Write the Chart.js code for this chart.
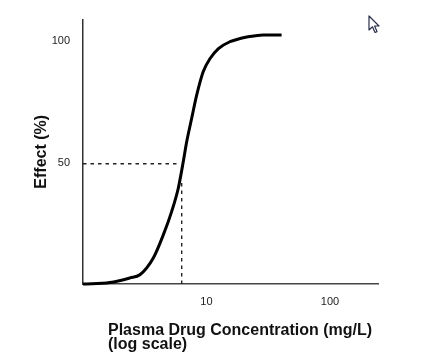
<!DOCTYPE html>
<html lang="en">
<head>
<meta charset="UTF-8">
<title>Effect vs Plasma Drug Concentration</title>
<script src="https://cdn.jsdelivr.net/npm/chart.js"></script>
<style>
    body {
        margin: 0;
        background: #fff;
    }
    .wrap {
        position: relative;
        width: 432px;
        height: 353px;
    }
    .x-title {
        position: absolute;
        left: 108px;
        top: 323px;
        font-family: "Liberation Sans", Arial, sans-serif;
        font-weight: bold;
        font-size: 16px;
        line-height: 14px;
        color: #111;
        white-space: nowrap;
    }
    .cursor {
        position: absolute;
        left: 368px;
        top: 15px;
    }
</style>
</head>
<body>
<div class="wrap">
    <canvas id="chart" width="432" height="353"></canvas>
    <div class="x-title">Plasma Drug Concentration (mg/L)<br>(log scale)</div>
    <svg class="cursor" width="14" height="20" viewBox="0 0 14 20">
        <path d="M1,1 L1,15 L4.5,11.8 L7,17.5 L9,16.6 L6.6,11 L11,11 Z" fill="#fff" stroke="#2a2f4a" stroke-width="1.2" stroke-linejoin="round"/>
    </svg>
</div>

<script>
// concentration (mg/L, log axis) and effect (%)
const concentration = [1.0, 1.65, 2.4, 2.89, 3.71, 4.47, 5.23, 5.91, 6.49, 6.92, 7.59, 8.33, 9.42, 10.7, 12.5, 15.5, 18.7, 21.2, 28.7, 40.6];
const effect        = [0,   0.6,  2.5, 3.8,  10.7, 20.2, 29.9, 39.4, 50.4, 58.6, 68.2, 77.7, 87.4, 92.8, 96.9, 99.7, 101.0, 101.6, 102.5, 102.5];

// dashed guide at half-maximal effect
const ec50 = 6.3;
const halfEffect = 49.5;
const guideTop = 42;

const xTicks = [10, 100];
const yTicks = [50, 100];

const font = { family: '"Liberation Sans", Arial, sans-serif', size: 11 };

new Chart(document.getElementById('chart'), {
    type: 'line',
    data: {
        datasets: [{
            data: [{ x: 1, y: halfEffect }, { x: ec50 - 0.2, y: halfEffect }],
            borderColor: '#222',
            borderWidth: 1.4,
            borderDash: [3.5, 4],
            pointRadius: 0
        }, {
            data: [{ x: ec50, y: 0 }, { x: ec50, y: guideTop }],
            borderColor: '#222',
            borderWidth: 1.4,
            borderDash: [3.5, 4],
            pointRadius: 0
        }, {
            data: concentration.map((c, i) => ({ x: c, y: effect[i] })),
            borderColor: '#000',
            borderWidth: 3,
            pointRadius: 0,
            cubicInterpolationMode: 'monotone',
            clip: false
        }]
    },
    options: {
        responsive: false,
        animation: false,
        layout: { padding: { top: 19, right: 54, left: 0, bottom: 0 } },
        plugins: {
            legend: { display: false },
            tooltip: { enabled: false }
        },
        scales: {
            x: {
                type: 'logarithmic',
                min: 1,
                max: 245,
                grid: { display: false, drawTicks: false },
                border: { display: true, color: '#444', width: 1.5 },
                afterBuildTicks: (s) => { s.ticks = xTicks.map(v => ({ value: v })); },
                afterFit: (s) => { s.height = 69; },
                ticks: {
                    color: '#222',
                    font: font,
                    padding: 11,
                    autoSkip: false,
                    maxRotation: 0,
                    callback: (v) => String(v)
                }
            },
            y: {
                min: 0,
                max: 108.8,
                grid: { display: false, drawTicks: false },
                border: { display: true, color: '#333', width: 1.5 },
                afterBuildTicks: (s) => { s.ticks = yTicks.map(v => ({ value: v })); },
                afterFit: (s) => { s.width = 83; },
                ticks: {
                    color: '#222',
                    font: font,
                    padding: 13
                },
                title: {
                    display: true,
                    text: 'Effect (%)',
                    color: '#111',
                    font: { family: '"Liberation Sans", Arial, sans-serif', size: 16, weight: 'bold' },
                    padding: { top: 32, bottom: 0 }
                }
            }
        }
    }
});
</script>
</body>
</html>
